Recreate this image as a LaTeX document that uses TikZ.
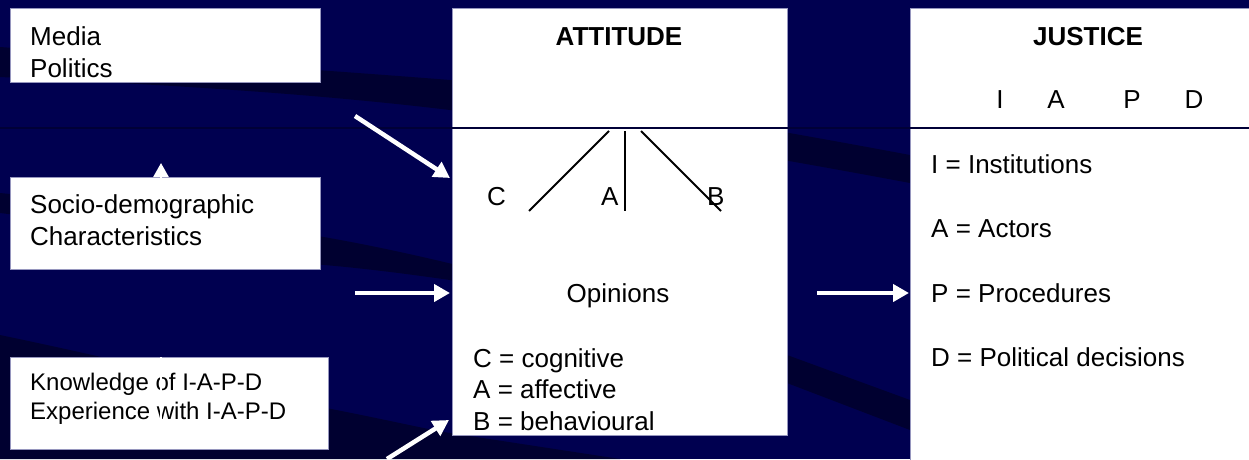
\documentclass[tikz,border=0pt]{standalone}
\usepackage{fontspec}
\setmainfont{Liberation Sans}
\usetikzlibrary{arrows.meta}
\definecolor{bg}{RGB}{0,0,80}
\definecolor{band}{RGB}{0,0,48}
\definecolor{divider}{RGB}{0,0,55}
\definecolor{boxline}{RGB}{150,150,190}
\begin{document}
\begin{tikzpicture}[x=1pt,y=-1pt,
  box/.style={draw=boxline, fill=white, line width=0.6pt, inner sep=0pt, anchor=north west},
  txt/.style={inner sep=0pt, anchor=base west, font=\fontsize{26}{32}\selectfont},
  smalltxt/.style={inner sep=0pt, anchor=base west, font=\fontsize{24}{29}\selectfont},
  ctxt/.style={inner sep=0pt, anchor=base, font=\fontsize{26}{32}\selectfont},
  btxt/.style={inner sep=0pt, anchor=base, font=\fontsize{26}{32}\selectfont\bfseries},
  flow/.style={draw=white, line width=4.5pt, -{Triangle[length=16pt,width=17pt]}},
  hidden/.style={draw=white, line width=2.5pt, -{Triangle[length=14pt,width=15pt]}},
  blk/.style={draw=black, line width=2pt}]
% background
\fill[bg] (0,0) rectangle (1249,459);
\useasboundingbox (0,0) rectangle (1249,459);
% swooshes
\fill[band] (0,47) .. controls (200,62) and (350,72) .. (450,80)
  .. controls (600,100) and (750,125) .. (910,155) -- (1249,210) -- (1249,245)
  -- (910,183) .. controls (750,153) and (600,128) .. (450,110)
  .. controls (300,92) and (150,84) .. (0,77) -- cycle;
\fill[band] (0,193) .. controls (120,205) and (220,218) .. (300,233)
  .. controls (480,262) and (650,320) .. (787,355) -- (910,400) -- (1249,480) -- (1249,520)
  -- (910,430) -- (787,383) .. controls (650,350) and (480,285) .. (450,280)
  .. controls (380,270) and (340,266) .. (300,263)
  .. controls (200,245) and (100,225) .. (0,213) -- cycle;
\fill[band] (0,335) .. controls (120,360) and (220,385) .. (300,403)
  .. controls (380,418) and (420,428) .. (450,433) -- (620,459) -- (0,459) -- cycle;
% boxes
\node[box, minimum width=310pt, minimum height=74pt] (media) at (10,8) {};
\node[box, minimum width=310pt, minimum height=92pt] (socio) at (10,177) {};
\node[box, minimum width=318pt, minimum height=92pt] (know) at (10,357) {};
\node[box, minimum width=335pt, minimum height=427pt] (att) at (452,8) {};
\node[box, minimum width=345pt, minimum height=460pt] (just) at (910,8) {};
% divider line across
\coordinate (dl) at (0,128);
\coordinate (dr) at (1249,128);
\draw[divider, line width=2.5pt] (dl) -- (dr);
% left texts
\node[txt] (t1) at (30,45) {Media};
\node[txt] (t2) at (30,77) {Politics};
\node[txt] (t3) at (30,213) {Socio-demographic};
\node[txt] (t4) at (30,245) {Characteristics};
\node[smalltxt] (t5) at (30,390) {Knowledge of I-A-P-D};
\node[smalltxt] (t6) at (30,419) {Experience with I-A-P-D};
% attitude
\node[btxt] (atttitle) at (619,45) {ATTITUDE};
\coordinate (top) at (625,131);
\coordinate (cl) at (609,131);
\coordinate (bl) at (641,131);
\coordinate (ce) at (529,211);
\coordinate (ae) at (625,211);
\coordinate (be) at (721,211);
\draw[blk] (cl) -- (ce);
\draw[blk] (top) -- (ae);
\draw[blk] (bl) -- (be);
\node[txt] (lc) at (487,205) {C};
\node[txt] (la) at (601,205) {A};
\node[txt] (lb) at (707,205) {B};
\node[ctxt] (op) at (618,302) {Opinions};
\node[txt] (c1) at (473,367) {C = cognitive};
\node[txt] (c2) at (473,398) {A = affective};
\node[txt] (c3) at (473,430) {B = behavioural};
% justice
\node[btxt] (justtitle) at (1088,45) {JUSTICE};
\node[ctxt] (ji) at (1000,108) {I};
\node[ctxt] (ja) at (1056,108) {A};
\node[ctxt] (jp) at (1132,108) {P};
\node[ctxt] (jd) at (1194,108) {D};
\node[txt] (j1) at (931,173) {I = Institutions};
\node[txt] (j2) at (931,237) {A = Actors};
\node[txt] (j3) at (931,302) {P = Procedures};
\node[txt] (j4) at (931,366) {D = Political decisions};
% arrows
\coordinate (s1) at (355,116);
\coordinate (e1) at (450,178);
\coordinate (s2) at (355,293);
\coordinate (e2) at (450,293);
\coordinate (s3) at (387,459);
\coordinate (e3) at (449,420);
\coordinate (s4) at (817,293);
\coordinate (e4) at (909,293);
\draw[flow] (s1) -- (e1);
\draw[flow] (s2) -- (e2);
\draw[flow] (s3) -- (e3);
\draw[flow] (s4) -- (e4);
% partly hidden vertical arrow (only shows above the socio box and across text)
\coordinate (vs) at (161,421);
\coordinate (ve) at (161,163);
\begin{scope}
  \clip (140,150) rectangle (185,214) (140,357) rectangle (185,421);
  \draw[hidden] (vs) -- (ve);
\end{scope}
\end{tikzpicture}
\end{document}
